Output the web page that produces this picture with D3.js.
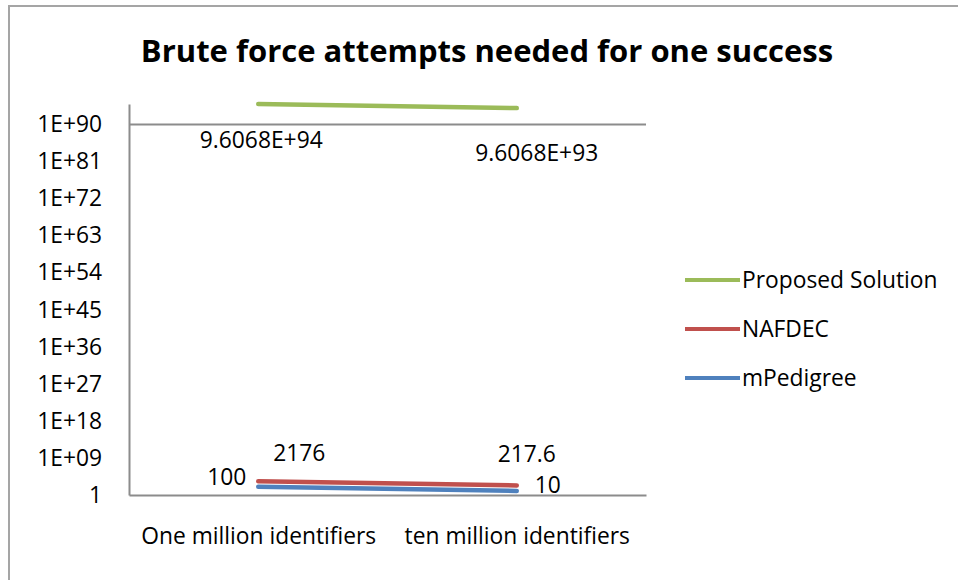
<!DOCTYPE html>
<html>
<head>
<meta charset="utf-8">
<script src="https://cdn.jsdelivr.net/npm/d3@7"></script>
<style>
  html, body { margin: 0; padding: 0; background: #fff; }
  svg { display: block; }
  text { font-family: "Open Sans", "Lato", sans-serif; fill: #000; }
</style>
</head>
<body>
<svg id="chart" width="958" height="580"></svg>
<script>
// ---- data ----
const categories = ["One million identifiers", "ten million identifiers"];
const seriesNames = ["Proposed Solution", "NAFDEC", "mPedigree"];
const proposedSolution = [9.6068e94, 9.6068e93];
const nafdec = [2176, 217.6];
const mPedigree = [100, 10];
const proposedLabels = ["9.6068E+94", "9.6068E+93"];
const nafdecLabels = ["2176", "217.6"];
const mPedigreeLabels = ["100", "10"];
const yTickValues = [1, 1e9, 1e18, 1e27, 1e36, 1e45, 1e54, 1e63, 1e72, 1e81, 1e90];
const yTickLabels = ["1", "1E+09", "1E+18", "1E+27", "1E+36", "1E+45", "1E+54", "1E+63", "1E+72", "1E+81", "1E+90"];
const title = "Brute force attempts needed for one success";

// ---- layout ----
const svg = d3.select("#chart");
const plot = { left: 129, right: 646, bottom: 495 };
const decadePx = (495 - 124.5) / 90;
const colors = { "Proposed Solution": "#9BBB59", "NAFDEC": "#C0504D", "mPedigree": "#4F81BD" };
const fs = "22.8px";

// outer border (top and left visible)
svg.append("path")
  .attr("d", "M9,580 V6 H958")
  .attr("fill", "none").attr("stroke", "#a5a5a5").attr("stroke-width", 2);

// title
svg.append("text")
  .attr("x", 487).attr("y", 62)
  .attr("text-anchor", "middle")
  .style("font-size", "31px").style("font-weight", "bold")
  .text(title);

const x = d3.scalePoint().domain(categories).range([plot.left, plot.right]).padding(0.5);
const y = d3.scaleLog().domain([1, 1e95]).range([plot.bottom, plot.bottom - 95 * decadePx]);

// gridline at top tick
svg.append("line")
  .attr("x1", plot.left).attr("x2", plot.right)
  .attr("y1", y(1e90)).attr("y2", y(1e90))
  .attr("stroke", "#8c8c8c").attr("stroke-width", 2);

// y axis
const yAxis = d3.axisLeft(y)
  .tickValues(yTickValues)
  .tickFormat((d, i) => yTickLabels[i])
  .tickSize(0).tickPadding(27);
const gy = svg.append("g").attr("transform", `translate(${plot.left},0)`).call(yAxis);
gy.select(".domain").attr("stroke", "#8c8c8c").attr("stroke-width", 2);
gy.selectAll("text").style("font-size", fs).attr("fill", "#000");

// x axis
const xAxis = d3.axisBottom(x).tickSize(0).tickPadding(33);
const gx = svg.append("g").attr("transform", `translate(0,${plot.bottom})`).call(xAxis);
gx.select(".domain").attr("stroke", "#8c8c8c").attr("stroke-width", 2);
gx.selectAll("text").style("font-size", fs).attr("fill", "#000");

// series
const series = [
  { name: "mPedigree", values: mPedigree, labels: mPedigreeLabels },
  { name: "NAFDEC", values: nafdec, labels: nafdecLabels },
  { name: "Proposed Solution", values: proposedSolution, labels: proposedLabels }
];
const line = d3.line().x((d, i) => x(categories[i])).y(d => y(d));
series.forEach(s => {
  svg.append("path")
    .datum(s.values)
    .attr("d", line)
    .attr("fill", "none")
    .attr("stroke", colors[s.name])
    .attr("stroke-width", 4.5)
    .attr("stroke-linecap", "round");
});

// data labels (offsets relative to each point)
const labelOffsets = {
  "Proposed Solution": [{ dx: 3, dy: 36, a: "middle" }, { dx: 20, dy: 45, a: "middle" }],
  "NAFDEC": [{ dx: 41, dy: -28, a: "middle" }, { dx: 10, dy: -31, a: "middle" }],
  "mPedigree": [{ dx: -12, dy: -10, a: "end" }, { dx: 31, dy: -6, a: "middle" }]
};
series.forEach(s => {
  s.values.forEach((v, i) => {
    const o = labelOffsets[s.name][i];
    svg.append("text")
      .attr("x", x(categories[i]) + o.dx)
      .attr("y", y(v) + o.dy)
      .attr("dy", "0.35em")
      .attr("text-anchor", o.a)
      .style("font-size", fs)
      .text(s.labels[i]);
  });
});

// legend
const legendItems = ["Proposed Solution", "NAFDEC", "mPedigree"];
const legendY = [280, 329, 378];
legendItems.forEach((name, i) => {
  svg.append("line")
    .attr("x1", 685).attr("x2", 740)
    .attr("y1", legendY[i]).attr("y2", legendY[i])
    .attr("stroke", colors[name]).attr("stroke-width", 4);
  svg.append("text")
    .attr("x", 742).attr("y", legendY[i])
    .attr("dy", "0.35em")
    .style("font-size", fs)
    .text(name);
});
</script>
</body>
</html>
